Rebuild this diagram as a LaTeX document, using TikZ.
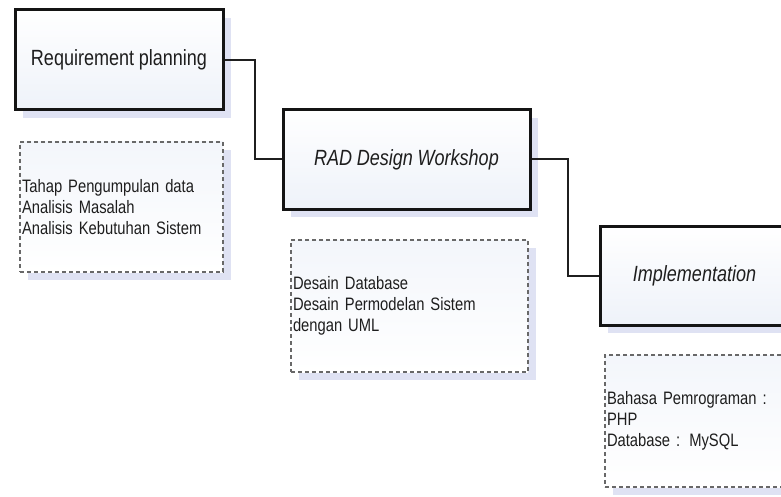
\documentclass[tikz,border=0pt]{standalone}
\usepackage{fontspec}
\newfontfamily\narfont[FakeStretch=0.82]{Liberation Sans}
\usetikzlibrary{shadows}
\definecolor{shadowcol}{HTML}{DFE2F3}
\definecolor{boxfillA}{HTML}{FFFFFF}
\definecolor{boxfillB}{HTML}{EEF2F9}
\definecolor{dashcol}{HTML}{686868}
\definecolor{txtcol}{HTML}{1E1E1E}
\newcommand{\headfont}{\narfont\fontsize{22}{26}\selectfont\fontdimen2\font=4.6pt\relax}
\newcommand{\headitfont}{\narfont\fontsize{22}{26}\selectfont\itshape\fontdimen2\font=4.6pt\relax}
\newcommand{\notefont}{\narfont\fontsize{18}{21}\selectfont\fontdimen2\font=3.6pt\relax}
\tikzset{
  boxshadow/.style={drop shadow={shadow xshift=8pt, shadow yshift=-8pt, fill=shadowcol, opacity=1}},
  solidbox/.style={draw=black!92, line width=3pt, rectangle, boxshadow,
    top color=boxfillA, bottom color=boxfillB, text=txtcol,
    font=\headfont, inner sep=0pt},
  notebox/.style={draw=dashcol, line width=1.4pt, dash pattern=on 4pt off 3pt, rectangle, boxshadow,
    top color=boxfillB!70, bottom color=white, text=txtcol, align=left,
    font=\notefont, inner xsep=2pt, inner ysep=0pt},
  link/.style={draw=black!88, line width=2pt}
}
\begin{document}
\begin{tikzpicture}[x=1pt,y=-1pt]
\clip (0,0) rectangle (781,497);
\fill[white] (0,0) rectangle (781,497);
% main phase boxes
\node[solidbox, minimum width=208pt, minimum height=100pt] (rp) at (119,60) {Requirement planning};
\node[solidbox, font=\headitfont, minimum width=247pt, minimum height=99pt] (rad) at (406.5,159.5) {RAD Design Workshop};
\node[solidbox, font=\headitfont, minimum width=189pt, minimum height=99pt] (impl) at (694.5,275.5) {Implementation};
% note boxes
\node[notebox, minimum width=203pt, minimum height=130pt, text width=199pt] (n1) at (121.5,207)
  {Tahap Pengumpulan data\\Analisis Masalah\\Analisis Kebutuhan Sistem};
\node[notebox, minimum width=237pt, minimum height=132pt, text width=233pt] (n2) at (409.5,306)
  {Desain Database\\Desain Permodelan Sistem\\dengan UML};
\node[notebox, minimum width=190pt, minimum height=132pt, text width=186pt] (n3) at (700,421)
  {Bahasa Pemrograman :\\PHP\\Database : MySQL};
% connectors
\coordinate (c1) at (255,0);
\coordinate (c2) at (568,0);
\draw[link] (rp.east) -- (rp.east -| c1) |- (rad.west);
\draw[link] (rad.east) -- (rad.east -| c2) |- (impl.west);
\end{tikzpicture}
\end{document}
